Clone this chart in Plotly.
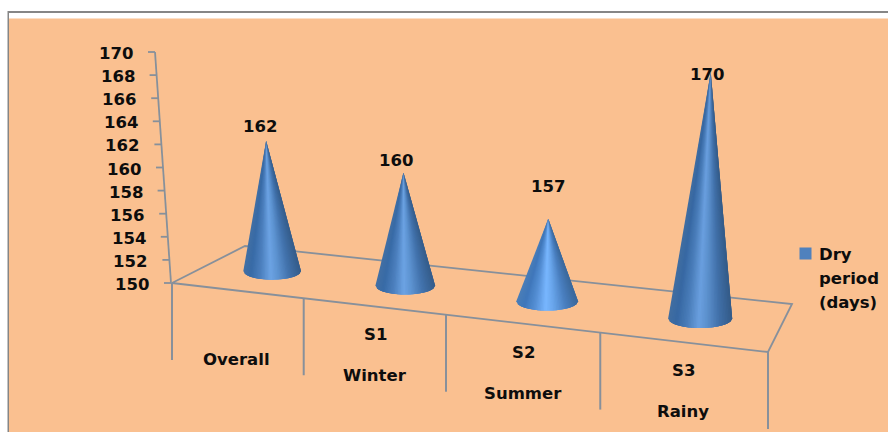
import math
import plotly.graph_objects as go

# Chart data
category_top = ["Overall", "S1", "S2", "S3"]
category_bottom = ["", "Winter", "Summer", "Rainy"]
dry_period_days = [162, 160, 157, 170]
axis_values = [150, 152, 154, 156, 158, 160, 162, 164, 166, 168, 170]
series_name = ["Dry", "period", "(days)"]

BASE_VALUE = 150
PEACH = "#FAC090"
GRID = "#87909B"
INK = "#0D0D0D"
FONT = dict(family="DejaVu Sans", size=16.5, color=INK, weight="bold")

# Corners of the perspective floor on the canvas
FRONT_L, FRONT_R = (172, 283), (768, 352)
BACK_L, BACK_R = (245, 246), (792, 304)
AXIS_LEAN, AXIS_STEP = -0.8, 11.55
DROP = 77


def warp(u):
    """Foreshortening along the category direction (u in 0..1)."""
    return u / (u + 1.175 * (1 - u))


def floor_point(u, depth):
    f = warp(u)
    fx = FRONT_L[0] + (FRONT_R[0] - FRONT_L[0]) * f
    fy = FRONT_L[1] + (FRONT_R[1] - FRONT_L[1]) * f
    bx = BACK_L[0] + (BACK_R[0] - BACK_L[0]) * f
    by = BACK_L[1] + (BACK_R[1] - BACK_L[1]) * f
    return fx + (bx - fx) * depth, fy + (by - fy) * depth


def lift(x, y, value):
    """Raise a floor point to a data value, with perspective spread."""
    dv = value - BASE_VALUE
    return x + (x - 480) * 0.0024 * dv, y - (10.85 + 0.0034 * (x - 272)) * dv


def axis_point(value):
    dv = value - BASE_VALUE
    return FRONT_L[0] - 1 + AXIS_LEAN * dv, FRONT_L[1] - AXIS_STEP * dv


SHADE_STOPS = [
    (-1.00, (66, 112, 164)),
    (-0.75, (56, 106, 166)),
    (-0.40, (76, 128, 190)),
    (-0.05, (108, 163, 228)),
    (0.20, (94, 148, 210)),
    (0.60, (66, 114, 172)),
    (1.00, (52, 92, 138)),
]


def shade(s, gain):
    for (a, ca), (b, cb) in zip(SHADE_STOPS, SHADE_STOPS[1:]):
        if s <= b:
            t = (s - a) / (b - a)
            rgb = [min(255, round((p + (q - p) * t) * gain)) for p, q in zip(ca, cb)]
            return f"rgb({rgb[0]},{rgb[1]},{rgb[2]})"
    return "rgb(52,92,138)"


fig = go.Figure()


def polyline(xs, ys, width=1.8, color=GRID):
    fig.add_trace(go.Scatter(x=xs, y=ys, mode="lines", hoverinfo="skip",
                             line=dict(color=color, width=width)))


# Floor outline and category dividers
polyline([FRONT_L[0], BACK_L[0], BACK_R[0], FRONT_R[0], FRONT_L[0]],
         [FRONT_L[1], BACK_L[1], BACK_R[1], FRONT_R[1], FRONT_L[1]])
for i in range(len(category_top) + 1):
    x, y = floor_point(i / len(category_top), 0)
    polyline([x, x], [y, y + DROP], width=2)

# Value axis with its ticks and labels
ax_low, ax_high = axis_point(axis_values[0]), axis_point(axis_values[-1])
polyline([ax_low[0], ax_high[0]], [ax_low[1], ax_high[1]])
annotations = []


def label(x, y, text, anchor="center"):
    annotations.append(dict(x=x, y=y, text=text, xref="x", yref="y", showarrow=False,
                            xanchor=anchor, yanchor="middle", font=FONT, align=anchor))


for v in axis_values:
    x, y = axis_point(v)
    polyline([x - 7, x], [y, y])
    label(x - 20, y + 1.5, str(v), anchor="right")

# Cones: each sliver is painted over its left neighbour and runs two steps to the
# right, so no background shows between slivers
STRIPS = 40
label_shift = [(-6, -14), (-7, -12), (0, -32), (-4, 2)]
gain_by_cone = [1.0, 1.0, 1.12, 0.98]
cone_nudge = [1, 3, 3, 2]
for i, value in enumerate(dry_period_days):
    cx, cy = floor_point((i + 0.5) / len(dry_period_days), 0.51)
    cx += cone_nudge[i]
    r = 28.8 + 0.0075 * (cx - 272)
    b = 0.3 * r
    ax, ay = lift(cx, cy, value)
    for k in range(STRIPS):
        steps = [min(1, -1 + 2 * (k + j) / STRIPS) for j in range(4)]
        color = shade(steps[0] + 1 / STRIPS, gain_by_cone[i])
        xs = [ax] + [cx + r * s for s in steps] + [ax]
        ys = [ay] + [cy + b * math.sqrt(max(0, 1 - s * s)) for s in steps] + [ay]
        fig.add_trace(go.Scatter(x=xs, y=ys, mode="lines", fill="toself", fillcolor=color,
                                 hoverinfo="skip", line=dict(width=0)))
    dx, dy = label_shift[i]
    label(ax + dx, ay + dy, str(value))

# Category labels beneath the floor
top_y = [359.5, 334, 352, 370]
bottom_y = [None, 375, 393, 411]
label_x = [236, 375, 523, 683]
for name, sub, x, yt, yb in zip(category_top, category_bottom, label_x, top_y, bottom_y):
    label(x, yt, name)
    if sub:
        label(x, yb, sub)

# Legend entry
fig.add_trace(go.Scatter(x=[805.5], y=[253.5], mode="markers", hoverinfo="skip",
                         marker=dict(symbol="square", size=12, color="#4F81BD")))
for line, y in zip(series_name, [254, 278, 302]):
    label(816.5, y, line, anchor="left")

fig.update_layout(
    width=888, height=432, showlegend=False, autosize=False,
    margin=dict(l=0, r=0, t=0, b=0),
    paper_bgcolor="white", plot_bgcolor="rgba(0,0,0,0)",
    xaxis=dict(range=[0, 888], visible=False, fixedrange=True),
    yaxis=dict(range=[432, 0], visible=False, fixedrange=True),
    annotations=annotations,
    shapes=[
        dict(type="rect", layer="below", xref="x", yref="y", x0=7.5, x1=888, y0=11, y1=432,
             fillcolor="#868686", line_width=0),
        dict(type="rect", layer="below", xref="x", yref="y", x0=9, x1=888, y0=13, y1=432,
             fillcolor="white", line_width=0),
        dict(type="rect", layer="below", xref="x", yref="y", x0=9, x1=888, y0=18.5, y1=432,
             fillcolor=PEACH, line_width=0),
    ],
)

fig.write_html("out.html", config=dict(displayModeBar=False))
